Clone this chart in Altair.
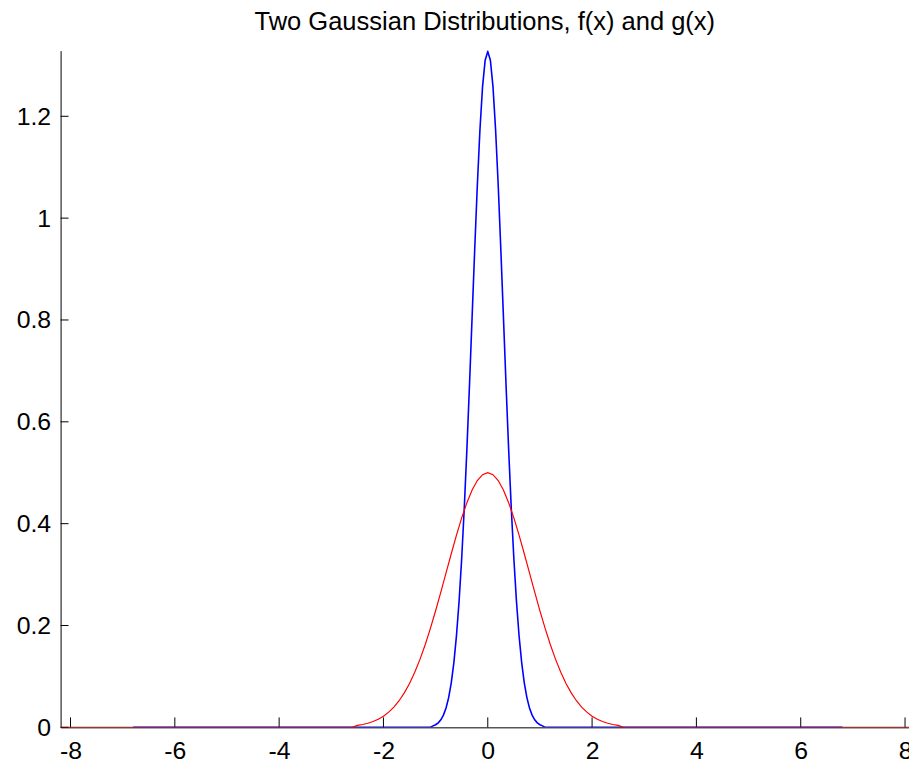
import altair as alt
import pandas as pd

# g(x): wide gaussian (red)
red_x = [-8.2, -2.6, -2.5, -2.4, -2.3, -2.2, -2.1, -2.0, -1.9, -1.8, -1.7, -1.6,
         -1.5, -1.4, -1.3, -1.2, -1.1, -1.0, -0.9, -0.8, -0.7, -0.6, -0.5, -0.4,
         -0.3, -0.2, -0.1, 0.0, 0.1, 0.2, 0.3, 0.4, 0.5, 0.6, 0.7, 0.8, 0.9, 1.0,
         1.1, 1.2, 1.3, 1.4, 1.5, 1.6, 1.7, 1.8, 1.9, 2.0, 2.1, 2.2, 2.3, 2.4, 2.5,
         2.6, 8.2]
red_y = [0.0, 0.0, 0.0038, 0.0056, 0.0080, 0.0114, 0.0159, 0.0220, 0.0298, 0.0398,
         0.0523, 0.0677, 0.0862, 0.1082, 0.1335, 0.1623, 0.1943, 0.2289, 0.2655,
         0.3033, 0.3409, 0.3774, 0.4113, 0.4412, 0.4660, 0.4846, 0.4961, 0.5000,
         0.4961, 0.4846, 0.4660, 0.4412, 0.4113, 0.3774, 0.3409, 0.3033, 0.2655,
         0.2289, 0.1943, 0.1623, 0.1335, 0.1082, 0.0862, 0.0677, 0.0523, 0.0398,
         0.0298, 0.0220, 0.0159, 0.0114, 0.0080, 0.0056, 0.0038, 0.0, 0.0]

# f(x): narrow gaussian (blue)
blue_x = [-6.8, -1.1, -1.05, -1.0, -0.95, -0.9, -0.85, -0.8, -0.75, -0.7, -0.65,
          -0.6, -0.55, -0.5, -0.45, -0.4, -0.35, -0.3, -0.25, -0.2, -0.15, -0.1,
          -0.05, 0.0, 0.05, 0.1, 0.15, 0.2, 0.25, 0.3, 0.35, 0.4, 0.45, 0.5, 0.55,
          0.6, 0.65, 0.7, 0.75, 0.8, 0.85, 0.9, 0.95, 1.0, 1.05, 1.1, 6.8]
blue_y = [0.0, 0.0, 0.0029, 0.0051, 0.0088, 0.0148, 0.0240, 0.0380, 0.0584, 0.0874,
          0.1272, 0.1800, 0.2477, 0.3317, 0.4318, 0.5468, 0.6734, 0.8067, 0.9398,
          1.0650, 1.1737, 1.2582, 1.3100, 1.3270, 1.3100, 1.2582, 1.1737, 1.0650,
          0.9398, 0.8067, 0.6734, 0.5468, 0.4318, 0.3317, 0.2477, 0.1800, 0.1272,
          0.0874, 0.0584, 0.0380, 0.0240, 0.0148, 0.0088, 0.0051, 0.0029, 0.0, 0.0]

x_ticks = [-8, -6, -4, -2, 0, 2, 4, 6, 8]
y_ticks = [0, 0.2, 0.4, 0.6, 0.8, 1, 1.2]

title_text = "Two Gaussian Distributions, f(x) and g(x)"

W, H = 855, 682
FONT = "Liberation Sans"

xscale = alt.Scale(domain=[-8.19, 8.076], nice=False, zero=False)
yscale = alt.Scale(domain=[0, 1.329], nice=False, zero=False)

xaxis = alt.Axis(values=x_ticks, ticks=False, tickSize=0, grid=False,
                 domainColor="black", domainWidth=1,
                 labelFont=FONT, labelFontSize=25, labelColor="black",
                 labelPadding=11, labelFlush=False, labelOverlap=False,
                 labelExpr="'' + datum.value", title=None)
yaxis = alt.Axis(values=y_ticks, ticks=False, tickSize=0, grid=False,
                 domainColor="black", domainWidth=1,
                 labelFont=FONT, labelFontSize=25, labelColor="black",
                 labelPadding=10, labelOverlap=False,
                 labelExpr="'' + datum.value", title=None)

red = pd.DataFrame({"x": red_x, "y": red_y})
blue = pd.DataFrame({"x": blue_x, "y": blue_y})
xt = pd.DataFrame({"t": x_ticks})
yt = pd.DataFrame({"t": y_ticks})

xtick_layer = alt.Chart(xt).mark_rule(color="black", strokeWidth=1).encode(
    x=alt.X("t:Q", scale=xscale, axis=xaxis),
    y=alt.value(H), y2=alt.value(H - 10))
ytick_layer = alt.Chart(yt).mark_rule(color="black", strokeWidth=1).encode(
    y=alt.Y("t:Q", scale=yscale, axis=yaxis),
    x=alt.value(0), x2=alt.value(8))

blue_layer = alt.Chart(blue).mark_line(color="#0000ff", strokeWidth=1.6, clip=True).encode(
    x=alt.X("x:Q", scale=xscale, axis=xaxis),
    y=alt.Y("y:Q", scale=yscale, axis=yaxis))
red_layer = alt.Chart(red).mark_line(color="#ff0000", strokeWidth=1.2, clip=True).encode(
    x=alt.X("x:Q", scale=xscale, axis=xaxis),
    y=alt.Y("y:Q", scale=yscale, axis=yaxis))

chart = alt.layer(xtick_layer, ytick_layer, blue_layer, red_layer).properties(
    width=W, height=H,
    padding={"left": 53, "top": 40, "right": 0, "bottom": 33},
    autosize=alt.AutoSizeParams(type="none"),
    title=alt.TitleParams(text=title_text, font=FONT, fontSize=25.7,
                          fontWeight="normal", color="black", anchor="middle",
                          frame="group", offset=15),
    background="white",
).configure_view(stroke=None)

chart.save("out.html", embed_options={"renderer": "svg", "actions": False})
